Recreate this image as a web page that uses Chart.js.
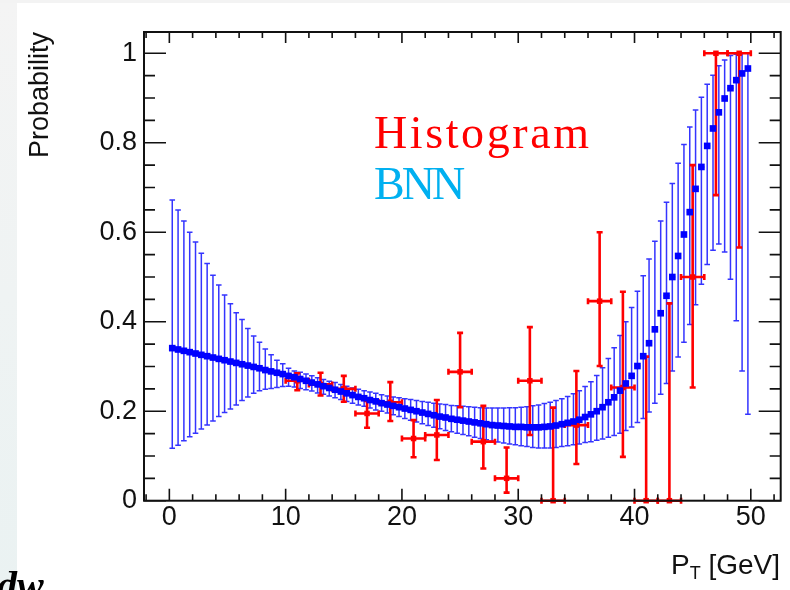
<!DOCTYPE html>
<html>
<head>
<meta charset="utf-8">
<script src="https://cdn.jsdelivr.net/npm/chart.js@4.4.0/dist/chart.umd.min.js"></script>
<style>
  html, body { margin: 0; padding: 0; background: #fff; }
  #wrap { position: relative; width: 790px; height: 590px; overflow: hidden; background: #fff; }
  #leftstrip { position: absolute; left: 0; top: 0; width: 17px; height: 590px; background: linear-gradient(#f4f4f4, #eaf2f2); }
  #topstrip { position: absolute; left: 0; top: 0; width: 790px; height: 3px; background: #f3f3f3; }
  canvas { position: absolute; left: 0; top: 0; }
  .serif { position: absolute; font-family: "Liberation Serif", "Times New Roman", serif; font-size: 46px; line-height: 1; white-space: nowrap; }
  #xtitle { position: absolute; right: 10px; top: 551px; font-family: "Liberation Sans", Arial, sans-serif; font-size: 28px; line-height: 1; color: #111; white-space: nowrap; }
  #xtitle .sub { font-size: 18px; position: relative; top: 5px; }
  #dw { position: absolute; left: -3px; top: 566px; font-family: "Liberation Serif", serif; font-style: italic; font-weight: bold; font-size: 40px; line-height: 1; color: #000; }
</style>
</head>
<body>
<div id="wrap">
  <div id="leftstrip"></div>
  <div id="topstrip"></div>
  <canvas id="myCanvas" width="790" height="590"></canvas>
  <div class="serif" style="left:374px; top:110px; color:#ff0000; letter-spacing:2.6px;">Histogram</div>
  <div class="serif" style="left:374px; top:161px; color:#00b0f0; letter-spacing:-3px;">BNN</div>
  <div id="xtitle">P<span class="sub">T</span> [GeV]</div>
  <div id="dw">dw</div>
</div>
<script>
// BNN output, 0.5 GeV bins (centre, lower end of bar, upper end of bar)
let bnnX = [
  0.25, 0.75, 1.25, 1.75, 2.25, 2.75, 3.25, 3.75, 4.25, 4.75,
  5.25, 5.75, 6.25, 6.75, 7.25, 7.75, 8.25, 8.75, 9.25, 9.75,
  10.25, 10.75, 11.25, 11.75, 12.25, 12.75, 13.25, 13.75, 14.25, 14.75,
  15.25, 15.75, 16.25, 16.75, 17.25, 17.75, 18.25, 18.75, 19.25, 19.75,
  20.25, 20.75, 21.25, 21.75, 22.25, 22.75, 23.25, 23.75, 24.25, 24.75,
  25.25, 25.75, 26.25, 26.75, 27.25, 27.75, 28.25, 28.75, 29.25, 29.75,
  30.25, 30.75, 31.25, 31.75, 32.25, 32.75, 33.25, 33.75, 34.25, 34.75,
  35.25, 35.75, 36.25, 36.75, 37.25, 37.75, 38.25, 38.75, 39.25, 39.75,
  40.25, 40.75, 41.25, 41.75, 42.25, 42.75, 43.25, 43.75, 44.25, 44.75,
  45.25, 45.75, 46.25, 46.75, 47.25, 47.75, 48.25, 48.75, 49.25, 49.75
];
let bnnY = [
  0.341, 0.338, 0.335, 0.332, 0.329, 0.326, 0.323, 0.320, 0.317, 0.314,
  0.311, 0.308, 0.305, 0.302, 0.299, 0.296, 0.292, 0.289, 0.286, 0.283,
  0.279, 0.276, 0.272, 0.268, 0.264, 0.260, 0.256, 0.252, 0.248, 0.244,
  0.240, 0.236, 0.232, 0.229, 0.225, 0.222, 0.218, 0.215, 0.212, 0.209,
  0.206, 0.203, 0.200, 0.197, 0.194, 0.191, 0.188, 0.186, 0.183, 0.181,
  0.179, 0.177, 0.175, 0.173, 0.171, 0.169, 0.168, 0.167, 0.166, 0.165,
  0.165, 0.164, 0.164, 0.164, 0.165, 0.166, 0.168, 0.171, 0.174, 0.177,
  0.181, 0.187, 0.193, 0.200, 0.209, 0.220, 0.231, 0.246, 0.262, 0.279,
  0.301, 0.323, 0.352, 0.383, 0.419, 0.458, 0.500, 0.547, 0.595, 0.645,
  0.697, 0.746, 0.793, 0.832, 0.868, 0.899, 0.922, 0.940, 0.955, 0.966
];
let bnnLo = [
  0.117, 0.124, 0.134, 0.143, 0.151, 0.160, 0.169, 0.178, 0.188, 0.197,
  0.205, 0.214, 0.224, 0.232, 0.240, 0.246, 0.249, 0.251, 0.253, 0.255,
  0.256, 0.254, 0.251, 0.248, 0.245, 0.241, 0.238, 0.234, 0.230, 0.226,
  0.222, 0.218, 0.214, 0.211, 0.207, 0.203, 0.200, 0.196, 0.192, 0.188,
  0.184, 0.180, 0.176, 0.172, 0.168, 0.164, 0.161, 0.157, 0.154, 0.151,
  0.148, 0.145, 0.142, 0.139, 0.136, 0.133, 0.131, 0.129, 0.127, 0.125,
  0.123, 0.121, 0.119, 0.118, 0.118, 0.118, 0.119, 0.121, 0.123, 0.125,
  0.127, 0.130, 0.132, 0.135, 0.138, 0.142, 0.146, 0.151, 0.157, 0.165,
  0.175, 0.184, 0.198, 0.218, 0.238, 0.262, 0.290, 0.321, 0.354, 0.394,
  0.438, 0.484, 0.528, 0.560, 0.574, 0.556, 0.495, 0.402, 0.290, 0.193
];
let bnnHi = [
  0.672, 0.650, 0.625, 0.600, 0.578, 0.553, 0.530, 0.504, 0.482, 0.460,
  0.440, 0.420, 0.405, 0.385, 0.368, 0.354, 0.339, 0.326, 0.314, 0.306,
  0.296, 0.290, 0.287, 0.283, 0.279, 0.275, 0.271, 0.267, 0.264, 0.260,
  0.256, 0.252, 0.249, 0.246, 0.243, 0.240, 0.237, 0.234, 0.232, 0.230,
  0.228, 0.226, 0.224, 0.222, 0.220, 0.218, 0.216, 0.215, 0.213, 0.212,
  0.211, 0.210, 0.209, 0.208, 0.207, 0.207, 0.207, 0.207, 0.208, 0.208,
  0.209, 0.210, 0.212, 0.214, 0.217, 0.220, 0.224, 0.228, 0.233, 0.239,
  0.246, 0.255, 0.266, 0.280, 0.297, 0.318, 0.342, 0.369, 0.400, 0.432,
  0.468, 0.503, 0.540, 0.580, 0.625, 0.667, 0.709, 0.754, 0.796, 0.835,
  0.873, 0.902, 0.931, 0.951, 0.972, 0.985, 0.995, 0.998, 1.000, 1.000
];
let bnnXErr = 0.25;

// histogram, 2 GeV bins
let histX = [11, 13, 15, 17, 19, 21, 23, 25, 27, 29, 31, 33, 35, 37, 39, 41, 43, 45, 47, 49];
let histY = [0.268, 0.260, 0.250, 0.195, 0.220, 0.139, 0.147, 0.288, 0.132, 0.050,
             0.268, 0.000, 0.169, 0.446, 0.253, 0.000, 0.000, 0.500, 1.000, 1.000];
let histLo = [0.247, 0.235, 0.221, 0.163, 0.178, 0.097, 0.091, 0.209, 0.072, 0.018,
              0.147, 0.000, 0.082, 0.301, 0.098, 0.000, 0.000, 0.253, 0.683, 0.566];
let histHi = [0.285, 0.286, 0.279, 0.223, 0.265, 0.180, 0.225, 0.375, 0.212, 0.119,
              0.388, 0.208, 0.290, 0.600, 0.467, 0.322, 0.441, 0.750, 1.000, 1.000];
let histXErr = 1;

// axes
let xTicks = [0, 10, 20, 30, 40, 50];
let yTicks = [0, 0.2, 0.4, 0.6, 0.8, 1];
let xRange = [-2.18, 52.57];
let yRange = [0, 1.0476];

const axisFont = { family: "'Liberation Sans', Arial, sans-serif", size: 27 };

// draws the vertical / horizontal error bars under the markers
const errorBars = {
  id: 'errorBars',
  beforeDatasetsDraw(chart) {
    const c = chart.ctx;
    const xs = chart.scales.x, ys = chart.scales.y;
    c.save();

    c.strokeStyle = '#3434ff';
    c.lineWidth = 1.5;
    bnnX.forEach((x, i) => {
      let px = xs.getPixelForValue(x);
      let py = ys.getPixelForValue(bnnY[i]);
      let top = ys.getPixelForValue(bnnHi[i]);
      let bot = ys.getPixelForValue(bnnLo[i]);
      c.beginPath();
      c.moveTo(px, top); c.lineTo(px, bot);
      c.moveTo(px - 2.8, top); c.lineTo(px + 2.8, top);
      c.moveTo(px - 2.8, bot); c.lineTo(px + 2.8, bot);
      c.moveTo(xs.getPixelForValue(x - bnnXErr), py); c.lineTo(xs.getPixelForValue(x + bnnXErr), py);
      c.stroke();
    });

    c.strokeStyle = '#ff0000';
    c.lineWidth = 2.6;
    histX.forEach((x, i) => {
      let px = xs.getPixelForValue(x);
      let py = ys.getPixelForValue(histY[i]);
      let top = ys.getPixelForValue(histHi[i]);
      let bot = ys.getPixelForValue(histLo[i]);
      let left = xs.getPixelForValue(x - histXErr);
      let right = xs.getPixelForValue(x + histXErr);
      c.beginPath();
      c.moveTo(px, top); c.lineTo(px, bot);
      c.moveTo(px - 3, top); c.lineTo(px + 3, top);
      c.moveTo(px - 3, bot); c.lineTo(px + 3, bot);
      c.moveTo(left, py); c.lineTo(right, py);
      c.moveTo(left, py - 3); c.lineTo(left, py + 3);
      c.moveTo(right, py - 3); c.lineTo(right, py + 3);
      c.stroke();
    });
    c.restore();
  }
};

// ROOT style box with inward ticks on all four sides
const rootFrame = {
  id: 'rootFrame',
  afterDraw(chart) {
    const c = chart.ctx;
    const a = chart.chartArea;
    const xs = chart.scales.x, ys = chart.scales.y;
    c.save();
    c.strokeStyle = '#111';
    c.lineWidth = 1.6;
    c.beginPath();
    for (let v = -2; v <= 52; v += 2) {
      let px = xs.getPixelForValue(v);
      let major = v % 10 === 0;
      c.moveTo(px, a.bottom); c.lineTo(px, a.bottom - (major ? 12 : 6.5));
      c.moveTo(px, a.top); c.lineTo(px, a.top + (major ? 11 : 6));
    }
    for (let k = 0; k <= 20; k++) {
      let py = ys.getPixelForValue(k * 0.05);
      let major = k % 4 === 0;
      c.moveTo(a.left, py); c.lineTo(a.left + (major ? 22 : 11), py);
      c.moveTo(a.right, py); c.lineTo(a.right - (major ? 22 : 11), py);
    }
    c.stroke();
    c.lineWidth = 2;
    c.strokeRect(a.left, a.top, a.right - a.left, a.bottom - a.top);
    c.restore();
  }
};

const ctx = document.getElementById('myCanvas');
let chart = new Chart(ctx, {
  type: 'scatter',
  data: {
    datasets: [
      {
        label: 'BNN',
        data: bnnX.map((x, i) => ({ x: x, y: bnnY[i] })),
        pointStyle: 'rect',
        pointRadius: 4.7,
        backgroundColor: '#0000ff',
        borderWidth: 0,
        order: 0
      },
      {
        label: 'Histogram',
        data: histX.map((x, i) => ({ x: x, y: histY[i] })),
        pointStyle: 'rect',
        pointRadius: 3.9,
        backgroundColor: '#ff0000',
        borderWidth: 0,
        order: 1
      }
    ]
  },
  options: {
    responsive: false,
    animation: false,
    devicePixelRatio: 1,
    clip: false,
    layout: { padding: { left: 0, top: 32, right: 9.3, bottom: 0 } },
    plugins: { legend: { display: false }, tooltip: { enabled: false } },
    scales: {
      x: {
        type: 'linear',
        min: xRange[0],
        max: xRange[1],
        grid: { display: false, drawTicks: false },
        border: { display: false },
        ticks: { font: axisFont, color: '#111', padding: 1, maxRotation: 0, autoSkip: false },
        afterBuildTicks: (s) => { s.ticks = xTicks.map(v => ({ value: v })); },
        afterFit: (s) => { s.height = 89.3; }
      },
      y: {
        type: 'linear',
        min: yRange[0],
        max: yRange[1],
        grid: { display: false, drawTicks: false },
        border: { display: false },
        ticks: { font: axisFont, color: '#111', padding: 7, callback: (v) => String(v) },
        afterBuildTicks: (s) => { s.ticks = yTicks.map(v => ({ value: v })); },
        afterFit: (s) => { s.width = 144; },
        title: {
          display: true,
          text: 'Probability',
          align: 'end',
          color: '#111',
          font: { family: "'Liberation Sans', Arial, sans-serif", size: 27 },
          padding: { top: 24, bottom: 0 }
        }
      }
    }
  },
  plugins: [errorBars, rootFrame]
});
</script>
</body>
</html>
